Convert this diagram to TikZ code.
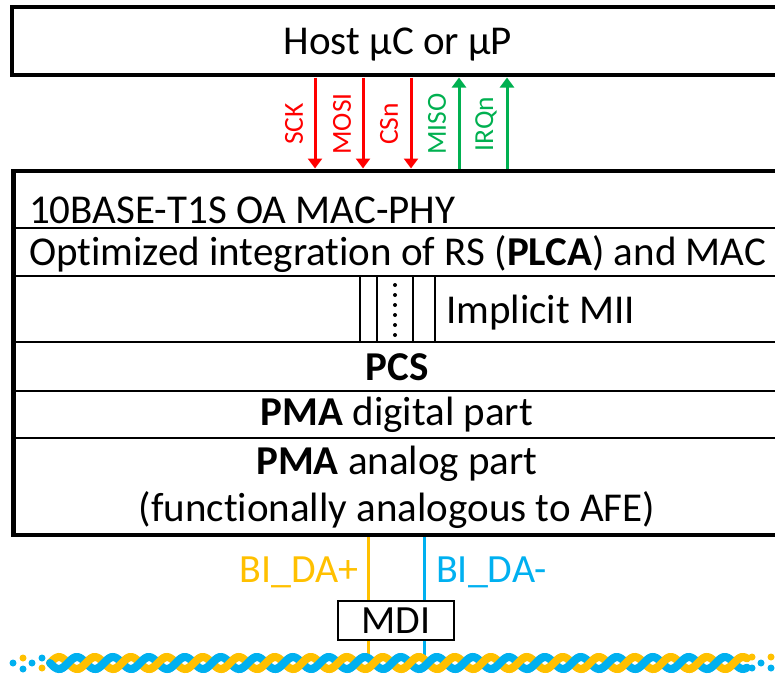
\documentclass[tikz,border=0pt]{standalone}
\usepackage{fontspec}
\setmainfont{Carlito}[Ligatures=NoCommon]
\usetikzlibrary{arrows.meta}

\definecolor{sigred}{HTML}{FF0000}
\definecolor{siggreen}{HTML}{00B050}
\definecolor{pairorange}{HTML}{FFC000}
\definecolor{pairblue}{HTML}{00B0F0}

\begin{document}
\begin{tikzpicture}[x=1pt,y=-1pt,
  thickbox/.style={line width=4.5pt},
  thinline/.style={line width=2.5pt},
  bigtext/.style={font=\fontsize{41}{49}\selectfont, inner sep=0pt},
  pairtext/.style={font=\fontsize{40}{48}\selectfont, inner sep=0pt},
  sigtext/.style={font=\fontsize{27.5}{33}\selectfont, inner sep=0pt, rotate=90},
  sigdown/.style={sigred, line width=3pt, -{Triangle[width=14pt,length=10pt]}},
  sigup/.style={siggreen, line width=3pt, -{Triangle[width=14pt,length=10pt]}},
  wire/.style={line width=3pt},
  strand/.style={line width=8pt},
  dotmark/.style={radius=3.5pt},
]
\useasboundingbox (0,0) rectangle (775,675);
\clip (0,0) rectangle (775,675);

% host controller box (open to the right)
\draw[thickbox] (800,7) -- (12,7) -- (12,75) -- (800,75);
\node[bigtext, anchor=base] (host) at (398,54) {Host µC or µP};

% MAC-PHY box and its layers
\draw[thickbox] (800,171) -- (13.5,171) -- (13.5,535) -- (800,535);
\foreach \yy in {228,276,342,391,438}
  \draw[thinline] (13.5,\yy) -- (800,\yy);

\node[bigtext, anchor=base west] (phy) at (29,223) {10BASE-T1S OA MAC-PHY};
\node[bigtext, anchor=base west] (rs) at (29,265) {Optimized integration of RS (\textbf{PLCA}) and MAC};

% implicit MII bundle
\foreach \xx in {360,377,413,435}
  \draw[thinline] (\xx,276) -- (\xx,342);
\draw[line width=4pt, line cap=round, dash pattern=on 0pt off 10pt] (395,285) -- (395,338);
\node[bigtext, anchor=base west] (mii) at (446,323) {Implicit MII};

\node[bigtext, anchor=base] (pcs) at (397,380) {\textbf{PCS}};
\node[bigtext, anchor=base] (pmad) at (397,425) {\textbf{PMA} digital part};
\node[bigtext, anchor=base] (pmaa) at (397,474) {\textbf{PMA} analog part};
\node[bigtext, anchor=base] (afe) at (397,521) {(functionally analogous to AFE)};

% SPI and interrupt signals
\foreach \nm/\xx in {sck/315, mosi/363, csn/411, miso/459, irq/507} {
  \coordinate (\nm-h) at (\xx,77.5);
  \coordinate (\nm-p) at (\xx,168.5);
}
\draw[sigdown] (sck-h) -- (sck-p);
\draw[sigdown] (mosi-h) -- (mosi-p);
\draw[sigdown] (csn-h) -- (csn-p);
\draw[sigup] (miso-p) -- (miso-h);
\draw[sigup] (irq-p) -- (irq-h);

\node[sigtext, text=sigred] (lsck) at (294,124) {SCK};
\node[sigtext, text=sigred] (lmosi) at (342,124) {MOSI};
\node[sigtext, text=sigred] (lcsn) at (389,124) {CSn};
\node[sigtext, text=siggreen] (lmiso) at (437,124) {MISO};
\node[sigtext, text=siggreen] (lirq) at (486,124) {IRQn};

% medium dependent interface
\node[draw, line width=2.5pt, minimum width=116pt, minimum height=39pt, pairtext] (mdi) at (396,620.5) {MDI};

\coordinate (plus-top) at (368,537);
\coordinate (minus-top) at (424,537);
\coordinate (plus-pair) at (368,660);
\coordinate (minus-pair) at (424,660);
\draw[wire, pairorange] (plus-top) -- (plus-top |- mdi.north);
\draw[wire, pairorange] (plus-top |- mdi.south) -- (plus-pair);
\draw[wire, pairblue] (minus-top) -- (minus-top |- mdi.north);
\draw[wire, pairblue] (minus-top |- mdi.south) -- (minus-pair);

\node[pairtext, text=pairorange, anchor=base east] (lplus) at (359,582) {BI\_DA+};
\node[pairtext, text=pairblue, anchor=base west] (lminus) at (436,582) {BI\_DA-};

% twisted pair cable
\draw[strand, pairorange, line cap=round] plot[domain=50:747, samples=400, smooth] (\x,{663-6*sin(10*(\x-50))});
\draw[strand, pairblue, line cap=round] plot[domain=50:747, samples=400, smooth] (\x,{663+6*sin(10*(\x-50))});
\foreach \k in {1,...,38} {
  \pgfmathsetmacro\xa{41+18*\k}
  \pgfmathsetmacro\xb{59+18*\k}
  \ifodd\k
    \draw[strand, pairblue] plot[domain=\xa:\xb, samples=25, smooth] (\x,{663+6*sin(10*(\x-50))});
  \else
    \draw[strand, pairorange] plot[domain=\xa:\xb, samples=25, smooth] (\x,{663-6*sin(10*(\x-50))});
  \fi
}
% cable end dots
\fill[pairblue] (13,663) circle[dotmark];
\fill[pairorange] (23,658) circle[dotmark];
\fill[pairblue] (23,669) circle[dotmark];
\fill[pairblue] (32,663) circle[dotmark];
\fill[pairblue] (42,658) circle[dotmark];
\fill[pairorange] (42,668) circle[dotmark];
\fill[pairorange] (752,657) circle[dotmark];
\fill[pairblue] (752,668) circle[dotmark];
\fill[pairblue] (761,663) circle[dotmark];
\fill[pairorange] (771,657) circle[dotmark];
\fill[pairblue] (771,668) circle[dotmark];
\end{tikzpicture}
\end{document}
